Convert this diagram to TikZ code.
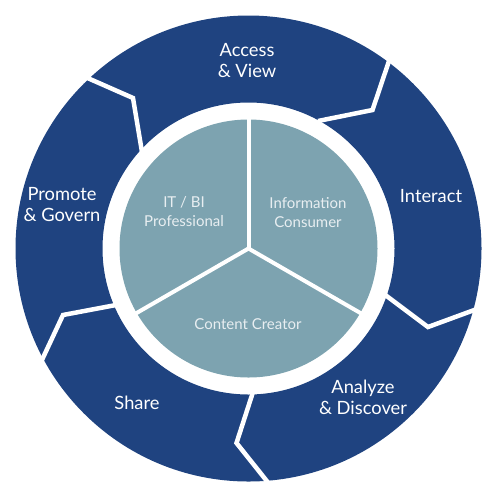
\documentclass[tikz,border=0pt]{standalone}
\usepackage{fontspec}
\setmainfont{Lato}
\definecolor{ringblue}{RGB}{31,67,128}
\definecolor{coregray}{RGB}{125,163,176}
\definecolor{coretext}{RGB}{232,238,241}
\begin{document}
\begin{tikzpicture}[x=1pt,y=-1pt,
  sep/.style={white,line width=4.5pt,line join=miter},
  spoke/.style={white,line width=4pt},
  outerlbl/.style={text=white,font=\fontsize{18.3}{21}\selectfont,align=center,inner sep=0pt},
  innerlbl/.style={text=coretext,font=\fontsize{15}{19}\selectfont,align=center,inner sep=0pt}]
\useasboundingbox (0,0) rectangle (500,499);
\coordinate (c) at (248.5,248.5);
% outer ring
\fill[ringblue,even odd rule] (c) circle[radius=233pt] (c) circle[radius=146pt];
% separators
\draw[sep] (83,76) -- (133,98) -- (142,152);
\draw[sep] (390,58) -- (372.5,110) -- (318,121);
\draw[sep] (384,294) -- (428,327) -- (477,309);
\draw[sep] (253,392) -- (236.5,443) -- (270,485);
\draw[sep] (116,305) -- (63,315) -- (41,362);
% core
\fill[coregray] (c) circle[radius=129pt];
\coordinate (up) at (248.5,117);
\coordinate (ll) at (134,314.5);
\coordinate (lr) at (363,314.5);
\draw[spoke] (c) -- (up);
\draw[spoke] (c) -- (ll);
\draw[spoke] (c) -- (lr);
% labels
\node[outerlbl] (access) at (247,61) {Access\\\& View};
\node[outerlbl] (interact) at (431,196) {Interact};
\node[outerlbl] (analyze) at (363,397) {Analyze\\\& Discover};
\node[outerlbl] (share) at (137,403) {Share};
\node[outerlbl] (promote) at (62,205) {Promote\\\& Govern};
\node[innerlbl] (itbi) at (184,212) {IT / BI\\Professional};
\node[innerlbl] (info) at (308,213) {Information\\Consumer};
\node[innerlbl] (creator) at (248,324) {Content Creator};
\end{tikzpicture}
\end{document}
